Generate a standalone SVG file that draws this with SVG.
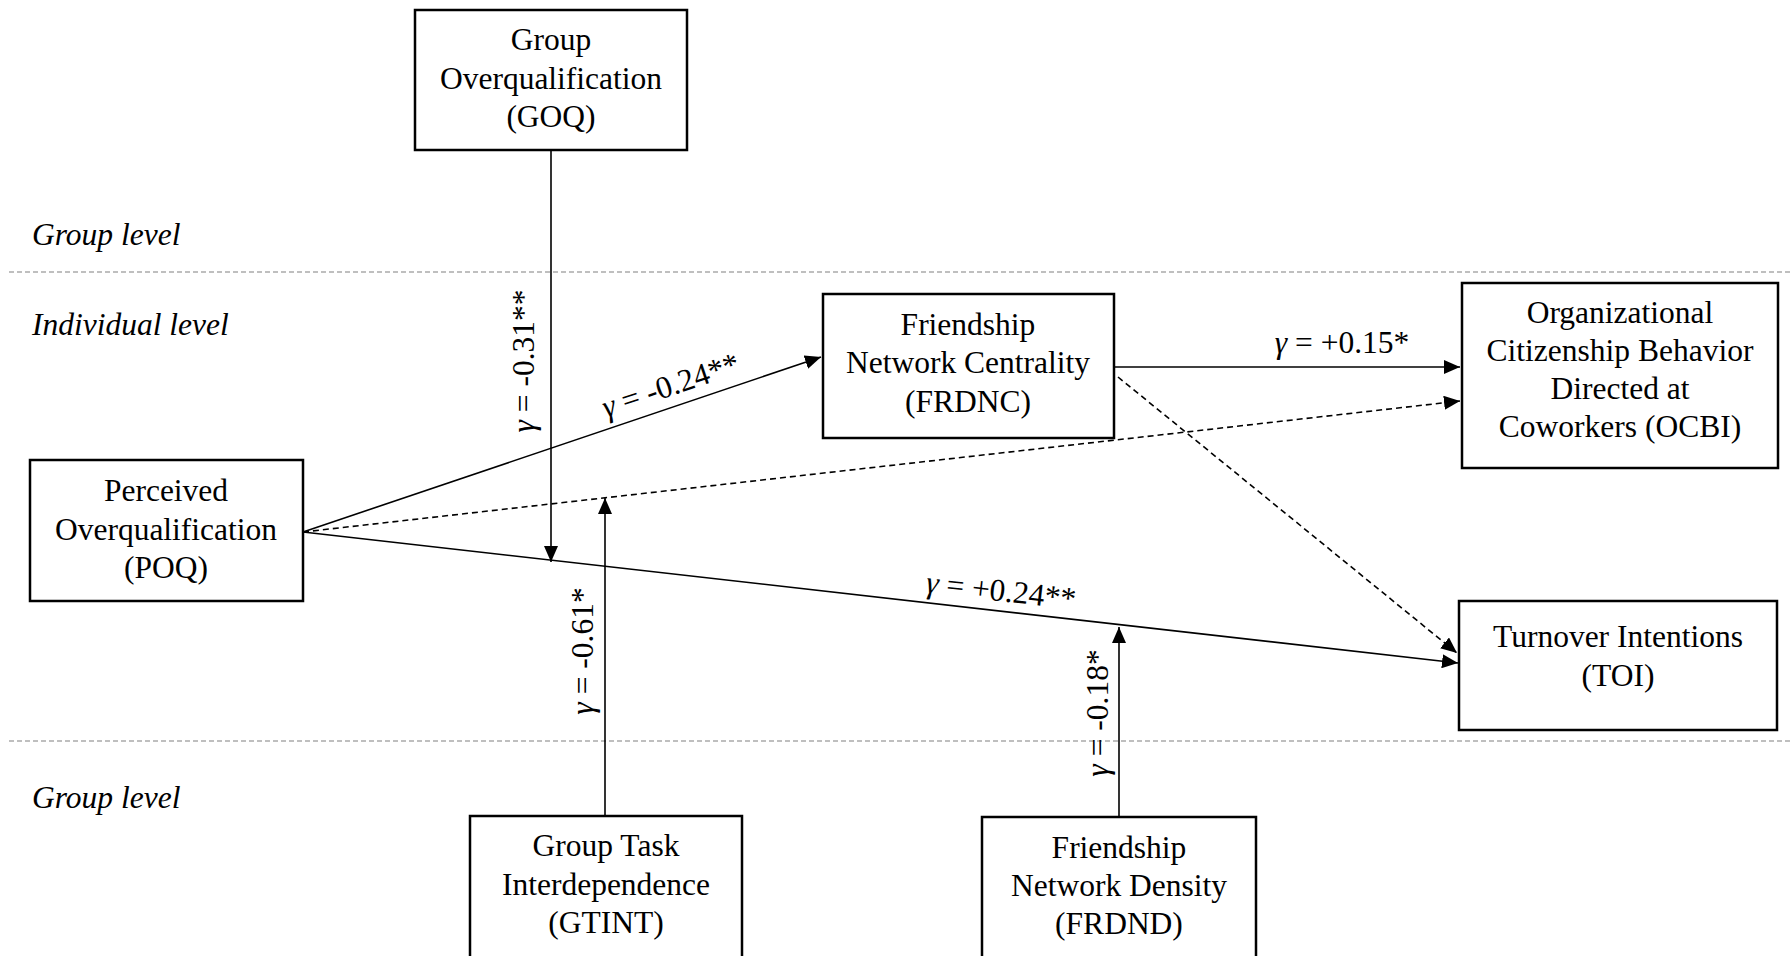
<svg xmlns="http://www.w3.org/2000/svg" width="1791" height="956" viewBox="0 0 1791 956">
<style>
.box{fill:#fff;stroke:#000;stroke-width:2.5}
.t{font-family:"Liberation Serif","Times New Roman",serif;font-size:31.5px;fill:#000}
.c{text-anchor:middle}
.it{font-style:italic}
.lvl{stroke:#808080;stroke-width:1.2;stroke-dasharray:5,3;fill:none}
.ln{stroke:#000;stroke-width:1.6;fill:none}
.dash{stroke-dasharray:6,4}
.arr{marker-end:url(#ah)}
</style>
<defs>
<marker id="ah" viewBox="0 0 16 14" refX="16" refY="7" markerWidth="16" markerHeight="14" markerUnits="userSpaceOnUse" orient="auto">
<path d="M0,0 L16,7 L0,14 z" fill="#000"/>
</marker>
</defs>
<rect width="1791" height="956" fill="#fff"/>

<g id="levels">
<line class="lvl" x1="9" y1="272" x2="1791" y2="272"/>
<line class="lvl" x1="9" y1="741" x2="1791" y2="741"/>
<text class="t it" x="32" y="245">Group level</text>
<text class="t it" x="32" y="335">Individual level</text>
<text class="t it" x="32" y="808">Group level</text>
</g>

<g id="connectors">
<line class="ln arr" x1="551" y1="150" x2="551" y2="562"/>
<line class="ln arr" x1="303" y1="532" x2="821" y2="357"/>
<line class="ln dash arr" x1="303" y1="532" x2="1460" y2="401"/>
<line class="ln arr" x1="303" y1="532" x2="1458" y2="663"/>
<line class="ln arr" x1="1114" y1="367" x2="1460" y2="367"/>
<line class="ln dash arr" x1="1118" y1="377" x2="1457" y2="653"/>
<line class="ln arr" x1="605" y1="816" x2="605" y2="498"/>
<line class="ln arr" x1="1119" y1="817" x2="1119" y2="627"/>
<text class="t c" transform="translate(534,361) rotate(-90)"><tspan class="it">γ</tspan> = -0.31**</text>
<text class="t c" transform="translate(593,651) rotate(-90)"><tspan class="it">γ</tspan> = -0.61*</text>
<text class="t c" transform="translate(1108,713) rotate(-90)"><tspan class="it">γ</tspan> = -0.18*</text>
<text class="t c" transform="translate(674,395) rotate(-18.67)"><tspan class="it">γ</tspan> = -0.24**</text>
<text class="t c" transform="translate(1000,601) rotate(6.47)"><tspan class="it">γ</tspan> = +0.24**</text>
<text class="t c" x="1342" y="353"><tspan class="it">γ</tspan> = +0.15*</text>
</g>

<g id="GOQ">
<rect class="box" x="415" y="10" width="272" height="140"/>
<text class="t c" x="551" y="50">Group</text>
<text class="t c" x="551" y="88.5">Overqualification</text>
<text class="t c" x="551" y="127">(GOQ)</text>
</g>

<g id="POQ">
<rect class="box" x="30" y="460" width="273" height="141"/>
<text class="t c" x="166" y="501">Perceived</text>
<text class="t c" x="166" y="539.5">Overqualification</text>
<text class="t c" x="166" y="578">(POQ)</text>
</g>

<g id="FRDNC">
<rect class="box" x="823" y="294" width="291" height="144"/>
<text class="t c" x="968" y="335">Friendship</text>
<text class="t c" x="968" y="373">Network Centrality</text>
<text class="t c" x="968" y="412">(FRDNC)</text>
</g>

<g id="OCBI">
<rect class="box" x="1462" y="283" width="316" height="185"/>
<text class="t c" x="1620" y="323">Organizational</text>
<text class="t c" x="1620" y="361">Citizenship Behavior</text>
<text class="t c" x="1620" y="399">Directed at</text>
<text class="t c" x="1620" y="437">Coworkers (OCBI)</text>
</g>

<g id="TOI">
<rect class="box" x="1459" y="601" width="318" height="129"/>
<text class="t c" x="1618" y="647">Turnover Intentions</text>
<text class="t c" x="1618" y="686">(TOI)</text>
</g>

<g id="GTINT">
<rect class="box" x="470" y="816" width="272" height="150"/>
<text class="t c" x="606" y="856">Group Task</text>
<text class="t c" x="606" y="895">Interdependence</text>
<text class="t c" x="606" y="933">(GTINT)</text>
</g>

<g id="FRDND">
<rect class="box" x="982" y="817" width="274" height="150"/>
<text class="t c" x="1119" y="858">Friendship</text>
<text class="t c" x="1119" y="896">Network Density</text>
<text class="t c" x="1119" y="934">(FRDND)</text>
</g>
</svg>
